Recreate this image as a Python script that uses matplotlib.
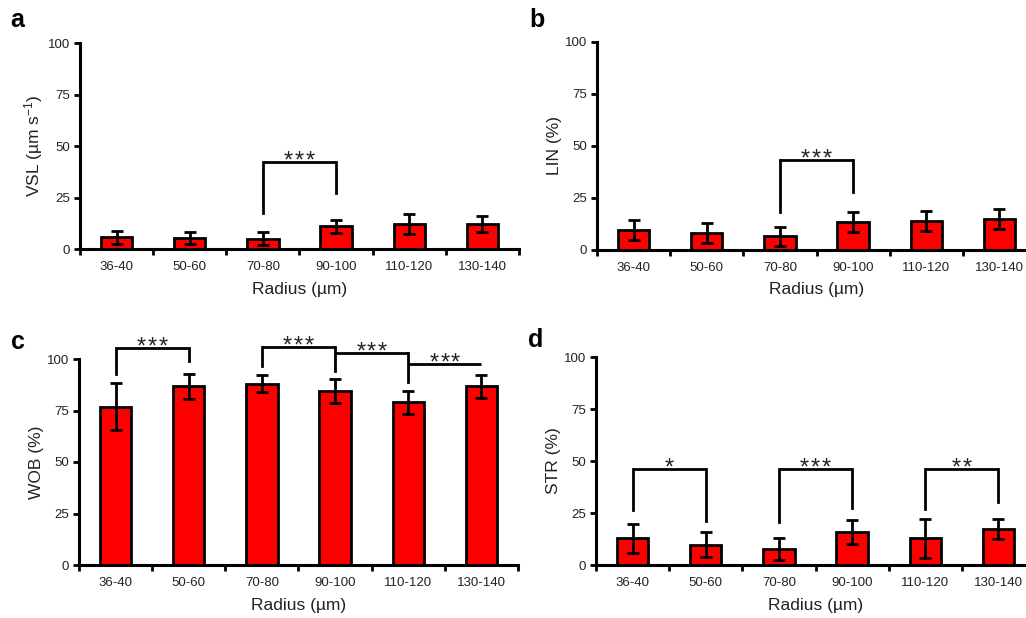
import matplotlib
matplotlib.use("Agg")
import matplotlib.pyplot as plt
from matplotlib.transforms import offset_copy
import numpy as np

plt.rcParams['font.family'] = ['Liberation Sans', 'DejaVu Sans']
plt.rcParams['mathtext.default'] = 'regular'

categories = ["36-40", "50-60", "70-80", "90-100", "110-120", "130-140"]

vsl_mean = [5.7, 5.3, 5.0, 11.0, 12.2, 12.1]
vsl_err = [3.2, 3.0, 3.2, 3.3, 4.7, 4.0]

lin_mean = [9.5, 7.9, 6.4, 13.2, 13.8, 14.6]
lin_err = [4.7, 5.0, 4.6, 4.7, 4.7, 4.7]

wob_mean = [76.9, 86.7, 88.0, 84.5, 79.1, 86.7]
wob_err = [11.5, 6.2, 4.2, 5.7, 5.6, 5.7]

str_mean = [12.8, 9.8, 7.7, 15.9, 12.8, 17.2]
str_err = [6.9, 6.0, 5.2, 5.7, 9.2, 4.8]

# brackets: (i, j, y_top, left_leg_bottom, right_leg_bottom, label)
brackets_a = [(2, 3, 42.3, 17.6, 27.0, "***")]
brackets_b = [(2, 3, 43.0, 18.0, 27.6, "***")]
brackets_c = [(0, 1, 105.2, 92.7, 98.9, "***"),
              (2, 3, 105.7, 96.4, 94.3, "***"),
              (3, 4, 102.8, None, 88.7, "***"),
              (4, 5, 97.7, None, None, "***")]
brackets_d = [(0, 1, 46.1, 26.6, 21.2, "*"),
              (2, 3, 46.1, 20.9, 27.3, "***"),
              (4, 5, 46.1, 27.0, 30.5, "**")]

W, H = 1026, 618
fig = plt.figure(figsize=(W / 100, H / 100), dpi=100)

def px_axes(left, right, top, bottom):
    return fig.add_axes([left / W, 1 - bottom / H, (right - left) / W, (bottom - top) / H])

panels = [
    (px_axes(80, 519, 43, 249), vsl_mean, vsl_err, "VSL (µm s$^{-1}$)", brackets_a, "a", (10, 20)),
    (px_axes(597, 1036, 42, 249.5), lin_mean, lin_err, "LIN (%)", brackets_b, "b", (529, 20)),
    (px_axes(79, 518, 359, 565), wob_mean, wob_err, "WOB (%)", brackets_c, "c", (11, 342)),
    (px_axes(596, 1035, 357, 565), str_mean, str_err, "STR (%)", brackets_d, "d", (528, 340)),
]

lw = 2.0
star_step = 7.8  # points between asterisks
for ax, mean, err, ylabel, brackets, letter, lpos in panels:
    x = np.arange(len(categories))
    ax.bar(x, mean, width=0.43, color="#ff0000", edgecolor="black", linewidth=lw, zorder=2)
    ax.errorbar(x, mean, yerr=err, fmt="none", ecolor="black", elinewidth=lw,
                capsize=4, capthick=lw, zorder=3)
    ax.set_xlim(-0.5, len(categories) - 0.5)
    ax.set_ylim(0, 100)
    ax.set_yticks([0, 25, 50, 75, 100])
    ax.set_xticks(x)
    ax.set_xticklabels(categories, fontsize=9.5, color="#222222")
    ax.set_xticks(np.arange(-0.5, len(categories)), minor=True)
    ax.tick_params(axis="x", which="major", length=0, pad=9)
    ax.tick_params(axis="x", which="minor", length=4, width=lw, direction="out")
    ax.tick_params(axis="y", length=4, width=lw, direction="out", labelsize=9.5,
                   labelcolor="#222222", pad=3)
    for s in ["top", "right"]:
        ax.spines[s].set_visible(False)
    for s in ["left", "bottom"]:
        ax.spines[s].set_linewidth(lw + 0.2)
    ax.set_ylabel(ylabel, fontsize=12.5, color="#222222", labelpad=2)
    ax.set_xlabel("Radius (µm)", fontsize=12.5, color="#222222", labelpad=6)
    for (i, j, ytop, lb, rb, lab) in brackets:
        ax.plot([i, j], [ytop, ytop], color="black", lw=lw, clip_on=False, zorder=4,
                solid_capstyle="butt")
        if lb is not None:
            ax.plot([i, i], [ytop, lb], color="black", lw=lw, clip_on=False, zorder=4,
                    solid_capstyle="projecting")
        if rb is not None:
            ax.plot([j, j], [ytop, rb], color="black", lw=lw, clip_on=False, zorder=4,
                    solid_capstyle="projecting")
        n = len(lab)
        for k in range(n):
            tr = offset_copy(ax.transData, fig=fig, x=(k - (n - 1) / 2) * star_step,
                             y=-4.0, units="points")
            ax.text((i + j) / 2, ytop, "*", transform=tr, ha="center", va="baseline",
                    fontsize=17, color="#222222", clip_on=False)
    fig.text(lpos[0] / W, 1 - lpos[1] / H, letter, fontsize=18, fontweight="bold",
             ha="left", va="center")

fig.savefig("out.png", dpi=100)
